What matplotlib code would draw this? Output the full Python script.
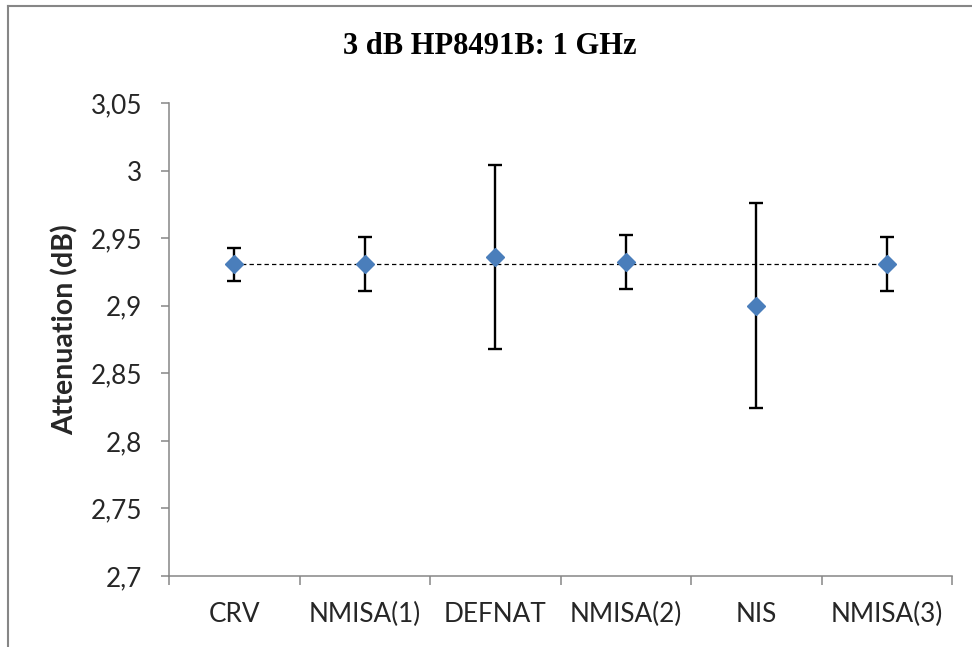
import matplotlib.pyplot as plt
from matplotlib.lines import Line2D

# data
labs = ["CRV", "NMISA(1)", "DEFNAT", "NMISA(2)", "NIS", "NMISA(3)"]
atten = [2.9306, 2.9306, 2.936, 2.932, 2.900, 2.9306]
unc = [0.012, 0.020, 0.068, 0.020, 0.076, 0.020]
ref_value = 2.9306
yticks = [2.7, 2.75, 2.8, 2.85, 2.9, 2.95, 3.0, 3.05]
ytick_labels = ["2,7", "2,75", "2,8", "2,85", "2,9", "2,95", "3", "3,05"]

GREY = "#868686"
BLUE = "#4a7ebb"
LABEL_FONT = "Lato"

fig = plt.figure(figsize=(9.72, 6.47), dpi=100)
ax = fig.add_axes([169 / 972, 71 / 647, 783 / 972, 473 / 647])

xs = list(range(len(labs)))

# reference line across all labs
ax.plot([xs[0], xs[-1]], [ref_value, ref_value], color="black", lw=0.9,
        dashes=(3.5, 2.5), zorder=1)

ax.errorbar(xs, atten, yerr=unc, fmt="none", ecolor="black", elinewidth=1.7,
            capsize=5, capthick=1.7, zorder=2)
ax.plot(xs, atten, linestyle="none", marker="D", markersize=9.5,
        color=BLUE, markeredgecolor=BLUE, zorder=3)

ax.set_xlim(-0.5, len(labs) - 0.5)
ax.set_ylim(yticks[0], yticks[-1])

# excel style: ticks between categories, labels at categories
ax.set_xticks([x - 0.5 for x in xs] + [xs[-1] + 0.5])
ax.set_xticklabels([])
ax.set_xticks(xs, minor=True)
ax.set_xticklabels(labs, minor=True, fontsize=18.8, family=LABEL_FONT,
                   color="#262626")
ax.tick_params(axis="x", which="major", length=6.5, width=1.1, color=GREY,
               direction="out")
ax.tick_params(axis="x", which="minor", length=0, pad=19)

ax.set_yticks(yticks)
ax.set_yticklabels(ytick_labels, fontsize=18.8, family=LABEL_FONT,
                   color="#262626")
ax.tick_params(axis="y", length=5.5, width=1.1, color=GREY, direction="out",
               pad=14)

for side in ("top", "right"):
    ax.spines[side].set_visible(False)
for side in ("left", "bottom"):
    ax.spines[side].set_color(GREY)
    ax.spines[side].set_linewidth(1.1)

fig.text(490 / 972, 1 - 47 / 647, "3 dB HP8491B: 1 GHz", ha="center",
         va="center", fontsize=22, fontweight="bold",
         family="Liberation Serif")
fig.text(65 / 972, 1 - 330 / 647, "Attenuation (dB)", rotation=90,
         ha="center", va="center", fontsize=20.5, fontweight="bold",
         family=LABEL_FONT, color="#262626")

# outer chart border (only top and left visible in the crop)
fig.add_artist(Line2D([8 / 972, 1.0], [1 - 6 / 647, 1 - 6 / 647],
                      transform=fig.transFigure, color=GREY, lw=1.5))
fig.add_artist(Line2D([8 / 972, 8 / 972], [0.0, 1 - 6 / 647],
                      transform=fig.transFigure, color=GREY, lw=1.5))

fig.savefig("out.png", dpi=100)
